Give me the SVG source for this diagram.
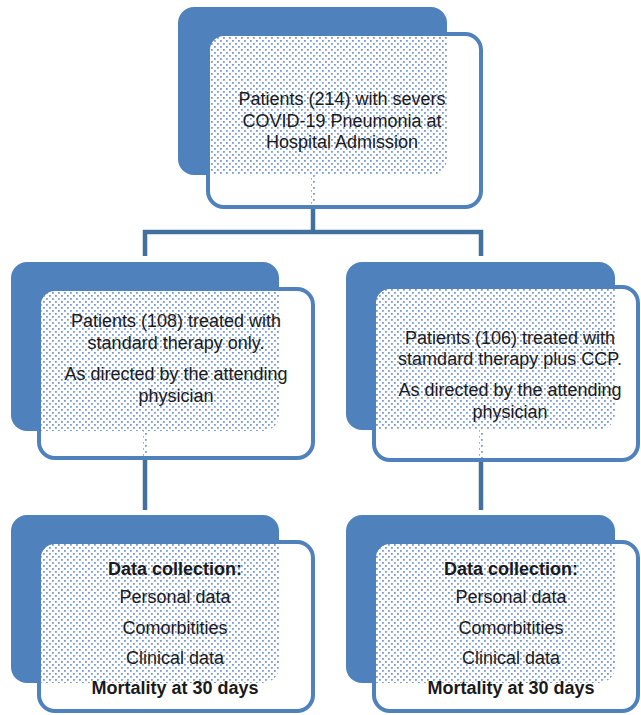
<svg xmlns="http://www.w3.org/2000/svg" width="641" height="715" viewBox="0 0 641 715">
<defs>
<style>
.back{fill:#4F81BD}
.front{fill:#ffffff}
.frame{fill:none;stroke:#4F81BD;stroke-width:4}
.dots{fill:url(#dots)}
.conn{fill:none;stroke:#41719C;stroke-width:4.5}
text{font-family:"Liberation Sans",Arial,sans-serif;font-size:18px;fill:#1a1a1a;text-anchor:middle}
.b{font-weight:bold}
</style>
<pattern id="dots" width="6" height="6" patternUnits="userSpaceOnUse">
<rect x="1" y="1" width="1.8" height="1.8" fill="#7A9BD2"/>
<rect x="4" y="4" width="1.8" height="1.8" fill="#7A9BD2"/>
</pattern>
<clipPath id="c0"><rect x="208" y="34" width="273" height="173" rx="16"/></clipPath>
<clipPath id="c1"><rect x="39" y="289" width="274" height="169" rx="16"/></clipPath>
<clipPath id="c2"><rect x="374" y="287" width="264" height="173" rx="16"/></clipPath>
<clipPath id="c3"><rect x="39" y="542" width="274" height="169" rx="16"/></clipPath>
<clipPath id="c4"><rect x="374" y="542" width="264" height="169" rx="16"/></clipPath>
</defs>

<g id="connectors">
<path class="conn" d="M313 207 V232"/>
<path class="conn" d="M145 256 V232 H481 V256"/>
<path class="conn" d="M145 458 V510"/>
<path class="conn" d="M481 460 V510"/>
</g>

<g id="n0">
<rect class="back" x="178" y="7" width="269" height="168" rx="16"/>
<rect class="front" x="208" y="34" width="273" height="173" rx="16"/>
<g clip-path="url(#c0)">
<rect class="dots" x="178" y="7" width="269" height="168" rx="16"/>
<rect class="dots" x="311" y="175" width="5" height="32"/>
</g>
<rect class="frame" x="208" y="34" width="273" height="173" rx="16"/>
<text x="342" y="105">Patients (214) with severs</text>
<text x="342" y="127">COVID-19 Pneumonia at</text>
<text x="342" y="148">Hospital Admission</text>
</g>

<g id="n1">
<rect class="back" x="11" y="262" width="268" height="169" rx="16"/>
<rect class="front" x="39" y="289" width="274" height="169" rx="16"/>
<g clip-path="url(#c1)">
<rect class="dots" x="11" y="262" width="268" height="169" rx="16"/>
<rect class="dots" x="143" y="431" width="5" height="27"/>
</g>
<rect class="frame" x="39" y="289" width="274" height="169" rx="16"/>
<text x="176" y="327">Patients (108) treated with</text>
<text x="176" y="349">standard therapy only.</text>
<text x="176" y="380">As directed by the attending</text>
<text x="176" y="402">physician</text>
</g>

<g id="n2">
<rect class="back" x="346" y="262" width="269" height="168" rx="16"/>
<rect class="front" x="374" y="287" width="264" height="173" rx="16"/>
<g clip-path="url(#c2)">
<rect class="dots" x="346" y="262" width="269" height="168" rx="16"/>
<rect class="dots" x="479" y="430" width="5" height="30"/>
</g>
<rect class="frame" x="374" y="287" width="264" height="173" rx="16"/>
<text x="510" y="344">Patients (106) treated with</text>
<text x="510" y="365">stamdard therapy plus CCP.</text>
<text x="510" y="396">As directed by the attending</text>
<text x="510" y="418">physician</text>
</g>

<g id="n3">
<rect class="back" x="11" y="515" width="268" height="168" rx="16"/>
<rect class="front" x="39" y="542" width="274" height="169" rx="16"/>
<g clip-path="url(#c3)">
<rect class="dots" x="11" y="515" width="268" height="168" rx="16"/>
</g>
<rect class="frame" x="39" y="542" width="274" height="169" rx="16"/>
<text class="b" x="175" y="575">Data collection:</text>
<text x="175" y="603">Personal data</text>
<text x="175" y="634">Comorbitities</text>
<text x="175" y="664">Clinical data</text>
<text class="b" x="175" y="694">Mortality at 30 days</text>
</g>

<g id="n4">
<rect class="back" x="346" y="515" width="269" height="168" rx="16"/>
<rect class="front" x="374" y="542" width="264" height="169" rx="16"/>
<g clip-path="url(#c4)">
<rect class="dots" x="346" y="515" width="269" height="168" rx="16"/>
</g>
<rect class="frame" x="374" y="542" width="264" height="169" rx="16"/>
<text class="b" x="511" y="575">Data collection:</text>
<text x="511" y="603">Personal data</text>
<text x="511" y="634">Comorbitities</text>
<text x="511" y="664">Clinical data</text>
<text class="b" x="511" y="694">Mortality at 30 days</text>
</g>
</svg>
